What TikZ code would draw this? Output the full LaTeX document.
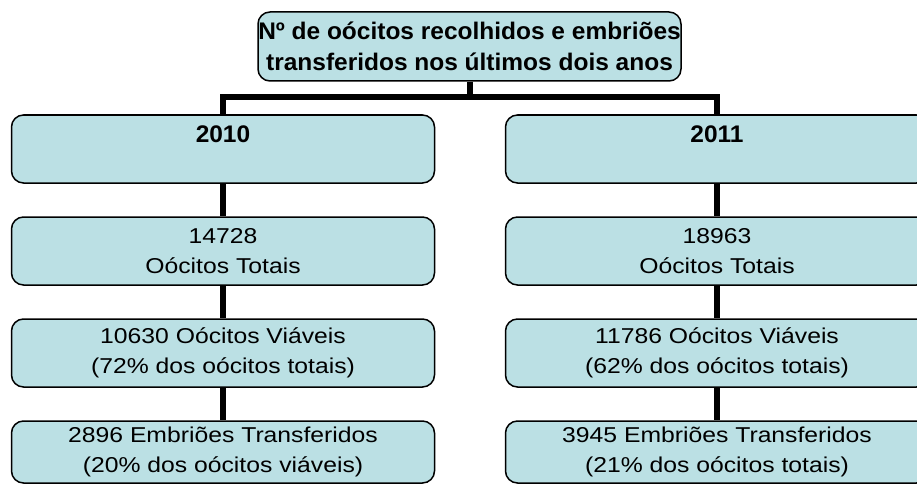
\documentclass[tikz,border=0pt]{standalone}
\usepackage{fontspec}
\setmainfont{Liberation Sans}
\newfontfamily\regfont[FakeStretch=1.15]{Liberation Sans}
\newfontfamily\boldfont[FakeStretch=1.02]{Liberation Sans Bold}
\usetikzlibrary{positioning}
\definecolor{boxblue}{RGB}{187,224,228}

\begin{document}
\begin{tikzpicture}[x=1pt,y=-1pt,
		base node/.style={draw,fill=boxblue,rounded corners=12pt,line width=1.5pt,minimum width=423pt,minimum height=68pt,inner sep=0pt,align=center,font=\regfont\fontsize{21.5}{30}\selectfont},
		year node/.style={base node,font=\boldfont\fontsize{24}{31}\selectfont},
		trunk/.style={line width=6pt,line join=miter}]
		\useasboundingbox (0,0) rectangle (917,484);
		% titulo
		\node[base node,minimum height=69pt,font=\boldfont\fontsize{24}{31}\selectfont] (top) at (469.5,46.5) {Nº de oócitos recolhidos e embriões\\transferidos nos últimos dois anos};
		% 2010
		\node[year node] (y10) at (223,149) {};
		\node[anchor=base] (t10) at (223,142) {\boldfont\fontsize{24}{31}\selectfont 2010};
		\node[base node] (tot10) at (223,251) {14728\\Oócitos Totais};
		\node[base node] (via10) at (223,353) {10630 Oócitos Viáveis\\(72\% dos oócitos totais)};
		\node[base node,minimum height=62pt] (emb10) at (223,452) {2896 Embriões Transferidos\\(20\% dos oócitos viáveis)};
		% 2011
		\node[year node] (y11) at (717,149) {};
		\node[anchor=base] (t11) at (717,142) {\boldfont\fontsize{24}{31}\selectfont 2011};
		\node[base node] (tot11) at (717,251) {18963\\Oócitos Totais};
		\node[base node] (via11) at (717,353) {11786 Oócitos Viáveis\\(62\% dos oócitos totais)};
		\node[base node,minimum height=62pt] (emb11) at (717,452) {3945 Embriões Transferidos\\(21\% dos oócitos totais)};
		\coordinate (bar) at (0,97);
		\draw[trunk] (top.south) -- (top.south |- bar);
		\draw[trunk] (y10.north) -- (y10.north |- bar) -- (y11.north |- bar) -- (y11.north);
		\draw[trunk] (y10.south) -- (tot10.north) (tot10.south) -- (via10.north) (via10.south) -- (emb10.north);
		\draw[trunk] (y11.south) -- (tot11.north) (tot11.south) -- (via11.north) (via11.south) -- (emb11.north);
\end{tikzpicture}
\end{document}
